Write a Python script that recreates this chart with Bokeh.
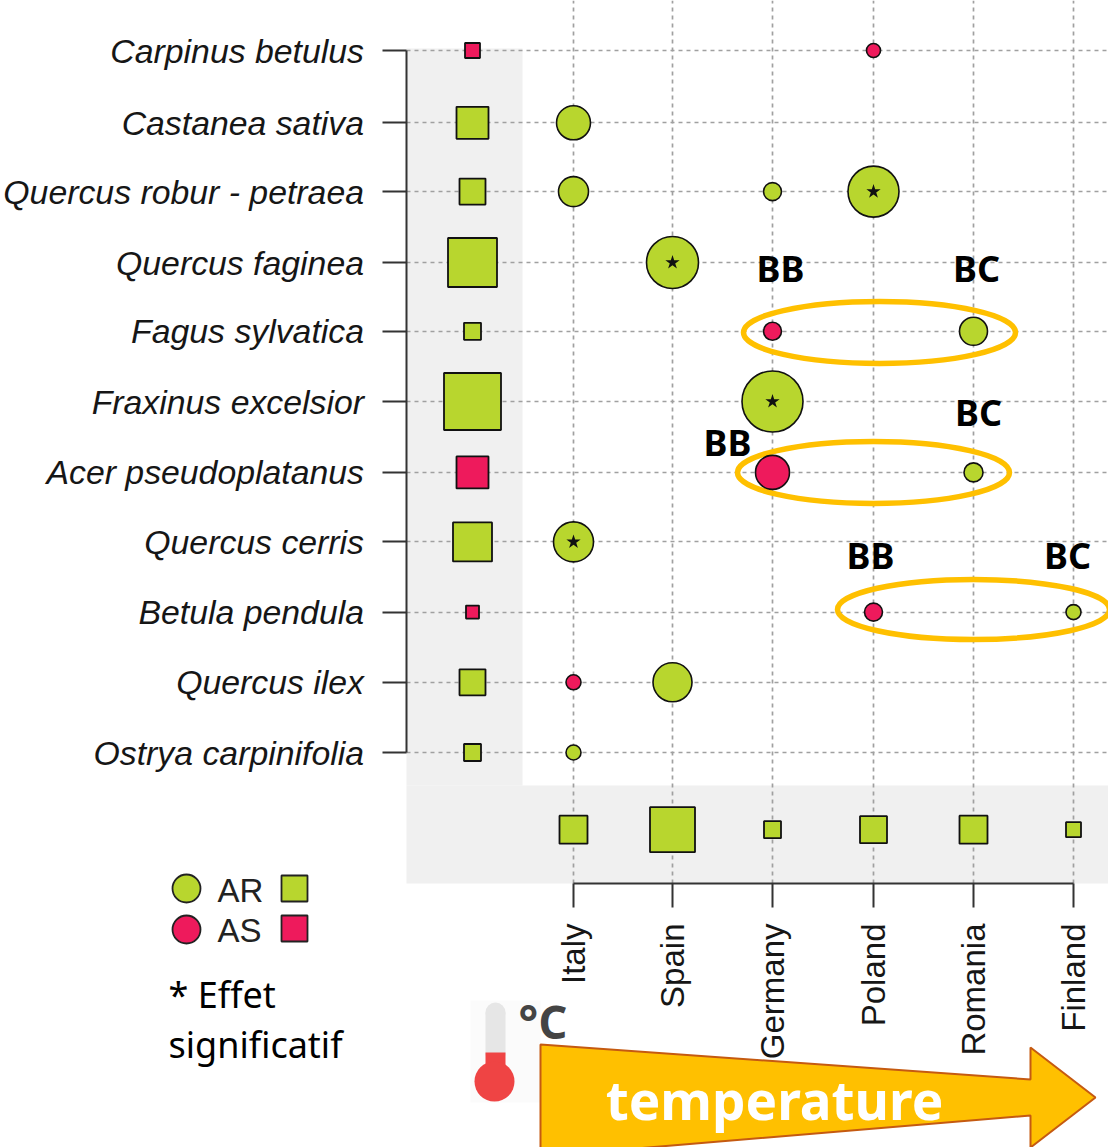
from math import pi
from bokeh.plotting import figure
from bokeh.models import Range1d, FixedTicker, Grid
from bokeh.embed import file_html
from bokeh.resources import INLINE
from bokeh.core.properties import value

species = ["Carpinus betulus", "Castanea sativa", "Quercus robur - petraea", "Quercus faginea",
           "Fagus sylvatica", "Fraxinus excelsior", "Acer pseudoplatanus", "Quercus cerris",
           "Betula pendula", "Quercus ilex", "Ostrya carpinifolia"]
countries = ["Italy", "Spain", "Germany", "Poland", "Romania", "Finland"]

GREEN = "#b8d62e"
RED = "#ee1a5c"

species_size = [15, 32, 26, 49, 17, 57, 32, 39, 13, 26, 17]
species_kind = ["AS", "AR", "AR", "AR", "AR", "AR", "AS", "AR", "AS", "AR", "AR"]
country_size = [28, 45, 17, 27, 28, 15]
c_species = [0, 1, 2, 2, 2, 3, 4, 4, 5, 6, 6, 7, 8, 8, 9, 9, 10]
c_country = [3, 0, 0, 2, 3, 1, 2, 4, 2, 2, 4, 0, 3, 5, 0, 1, 0]
c_size = [14, 34, 30, 18, 51, 52, 18, 28, 61, 34, 19, 40, 18, 15, 15, 39, 15]
c_kind = ["AS", "AR", "AR", "AR", "AR", "AR", "AS", "AR", "AR", "AS", "AR", "AR", "AS", "AR", "AS", "AR", "AR"]
c_sig = [0, 0, 0, 0, 1, 1, 0, 0, 1, 0, 0, 1, 0, 0, 0, 0, 0]
# slightly uneven spacing of the rows and columns in the original
row_pos = [0, 1.03, 2.01, 3.02, 4, 5, 6.01, 7, 8, 9, 10]
col_pos = [0, 0.99, 1.99, 3, 4, 5]

W, H = 1108, 1147
OX, OY = 0, 0
X0, DX = 573.0, 100.0
Y0, DY = 50.0, 70.2
def xd(px): return (px - X0) / DX
def yd(py): return (py - Y0) / DY

p = figure(width=W, height=H, output_backend="svg", toolbar_location=None,
           x_range=Range1d(xd(OX), xd(OX + W)), y_range=Range1d(yd(OY + H), yd(OY)),
           min_border=0, min_border_left=0, min_border_right=0, min_border_top=0, min_border_bottom=0,
           outline_line_color=None, background_fill_color="white", border_fill_color="white")
p.extra_x_ranges["px"] = Range1d(OX, OX + W)
p.extra_y_ranges["px"] = Range1d(OY + H, OY)
PX = dict(x_range_name="px", y_range_name="px")

p.xgrid.visible = False
p.ygrid.visible = False

yax = p.yaxis[0]
yax.fixed_location = xd(405.5)
yax.ticker = FixedTicker(ticks=row_pos)
yax.major_label_overrides = {t: s for t, s in zip(row_pos, species)}
yax.bounds = (0, row_pos[-1])
yax.major_label_text_font = "Liberation Sans"
yax.major_label_text_font_style = "italic"
yax.major_label_text_font_size = "33.8px"
yax.major_label_text_color = "#161616"
yax.major_tick_out = 24
yax.major_tick_in = 0
yax.minor_tick_line_color = None
yax.major_label_standoff = 18
yax.axis_line_color = "#333333"
yax.axis_line_width = 2
yax.major_tick_line_color = "#333333"
yax.major_tick_line_width = 2

xax = p.xaxis[0]
xax.fixed_location = yd(883)
xax.ticker = FixedTicker(ticks=col_pos)
xax.major_label_overrides = {t: s for t, s in zip(col_pos, countries)}
xax.bounds = (0, col_pos[-1])
xax.major_label_orientation = pi / 2
xax.major_label_text_font = "Liberation Sans"
xax.major_label_text_font_size = "33px"
xax.major_label_text_color = "#161616"
xax.major_tick_out = 24
xax.major_tick_in = 0
xax.minor_tick_line_color = None
xax.major_label_standoff = 16
xax.axis_line_color = "#333333"
xax.axis_line_width = 2
xax.major_tick_line_color = "#333333"
xax.major_tick_line_width = 2

p.quad(left=[406, 406, 470], right=[522, OX + W, 540], top=[48, 785, 1000], bottom=[785, 883, 1102],
       fill_color=["#f0f0f0", "#f0f0f0", "#fbfbfb"], line_color=None, level="image", **PX)

gx = Grid(dimension=0, ticker=FixedTicker(ticks=col_pos), cross_bounds=(yd(883), yd(OY)),
          grid_line_color="#a0a0a0", grid_line_dash="4 4", grid_line_width=1.7)
gy = Grid(dimension=1, ticker=FixedTicker(ticks=row_pos), cross_bounds=(xd(406), xd(OX + W)),
          grid_line_color="#a0a0a0", grid_line_dash="4 4", grid_line_width=1.7)
p.add_layout(gx)
p.add_layout(gy)

def col(k):
    return GREEN if k == "AR" else RED

p.ellipse(x=[879, 873, 973], y=[332, 472, 609], width=[272, 272, 272], height=[62, 62, 60],
          fill_color=None, line_color="#ffc000", line_width=5.5, **PX)

p.scatter(x=[-1.01] * len(species), y=row_pos, size=species_size, marker="square",
          fill_color=[col(k) for k in species_kind], line_color="#111111", line_width=1.8)
p.scatter(x=col_pos, y=[11.1] * len(countries), size=country_size, marker="square",
          fill_color=GREEN, line_color="#111111", line_width=1.8)

cx = [col_pos[c] for c in c_country]
cy = [row_pos[r] for r in c_species]
p.scatter(x=cx, y=cy, size=c_size, marker="circle",
          fill_color=[col(k) for k in c_kind], line_color="#111111", line_width=1.6)
sx = [c for c, s in zip(cx, c_sig) if s]
sy = [r for r, s in zip(cy, c_sig) if s]
p.scatter(x=sx, y=sy, size=15, marker="star", fill_color="#111111", line_color=None)

p.text(x=[780, 976, 727, 978, 870, 1067], y=[268, 268, 442, 412, 555, 555],
       text=["BB", "BC", "BB", "BC", "BB", "BC"], text_font=value("Noto Sans"), text_font_style="bold",
       text_font_size="36px", text_align="center", text_baseline="middle", text_color="black", **PX)

p.scatter(x=[186, 186], y=[888, 929], size=28, marker="circle", fill_color=[GREEN, RED],
          line_color="#222222", line_width=1.8, **PX)
p.scatter(x=[294, 294], y=[888, 928], size=26, marker="square", fill_color=[GREEN, RED],
          line_color="#222222", line_width=1.8, **PX)
p.text(x=[217, 217], y=[890, 930], text=["AR", "AS"], text_font=value("Liberation Sans"),
       text_font_size="33px", text_baseline="middle", text_color="#222222", **PX)
p.text(x=[168, 168], y=[994, 1044], text=["* Effet", "significatif"], text_font=value("Noto Sans"),
       text_font_size="36px", text_baseline="middle", text_color="black", **PX)

p.circle(x=[495], y=[1012], radius=10, fill_color="#e6e6e6", line_color=None, **PX)
p.quad(left=[485], right=[505], top=[1012], bottom=[1055], fill_color="#e6e6e6", line_color=None, **PX)
p.quad(left=[485], right=[505], top=[1052], bottom=[1080], fill_color="#ef4444", line_color=None, **PX)
p.circle(x=[494], y=[1081], radius=20, fill_color="#ef4444", line_color=None, **PX)
p.text(x=[518], y=[1020], text=["°C"], text_font=value("Open Sans"), text_font_style="bold",
       text_font_size="46px", text_baseline="middle", text_color="#444444", **PX)

p.patch(x=[540, 1030, 1030, 1095, 1030, 1030, 540], y=[1044, 1079, 1047, 1097, 1147, 1115, 1156],
        fill_color="#ffc000", line_color="#c55a11", line_width=2, **PX)
p.text(x=[774], y=[1099], text=["temperature"], text_font=value("Noto Sans"), text_font_style="bold",
       text_font_size="53px", text_align="center", text_baseline="middle", text_color="white", **PX)

open("out.html", "w").write(file_html(p, INLINE))
